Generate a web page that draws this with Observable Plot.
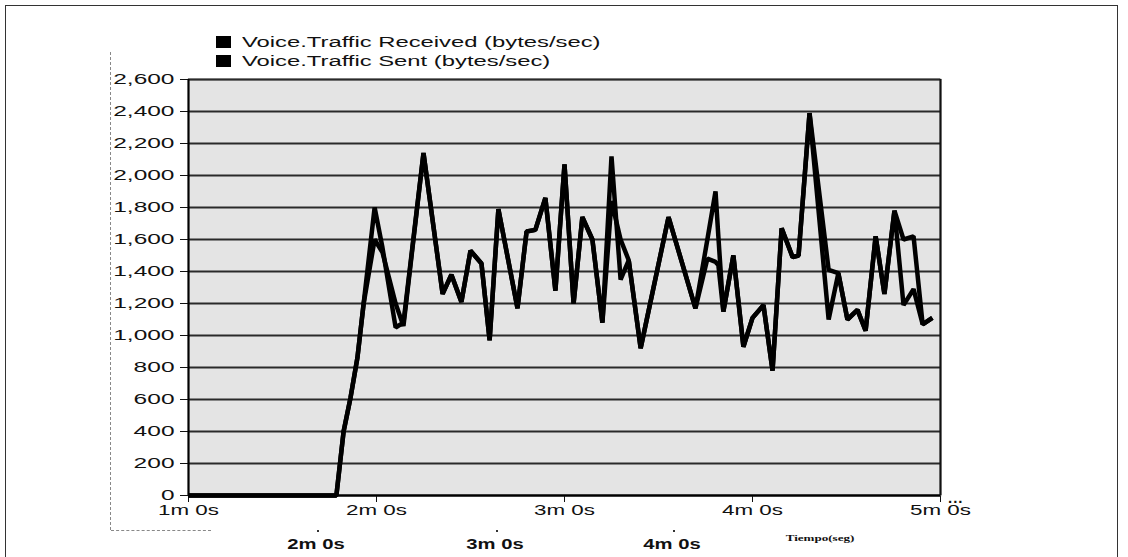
<!DOCTYPE html>
<html>
<head>
<meta charset="utf-8">
<script src="https://cdn.jsdelivr.net/npm/d3@7"></script>
<script src="https://cdn.jsdelivr.net/npm/@observablehq/plot@0.6"></script>
<style>
  html, body { margin: 0; padding: 0; background: #fff; }
  #wrap { position: relative; width: 1128px; height: 557px; overflow: hidden; font-family: "Liberation Sans", Arial, sans-serif; }
  #frame { position: absolute; left: 5px; top: 5px; width: 1113px; height: 600px; border: 1.5px solid #333; box-sizing: border-box; }
  .abs { position: absolute; white-space: nowrap; }
  .leg { font-size: 14px; color: #111; transform: scaleX(1.7); transform-origin: left center; line-height: 16px; }
  .sw { position: absolute; width: 15px; height: 12px; background: #000; }
  .bold { font-weight: bold; font-size: 15px; color: #111; transform: translateX(-50%) scaleX(1.35); line-height: 16px; }
  .dot { position: absolute; width: 2px; height: 2px; background: #333; }
  #dashv { position: absolute; left: 110px; top: 52px; height: 478px; border-left: 1px dashed #888; }
  #dashh { position: absolute; left: 111px; top: 530px; width: 100px; border-top: 1px dashed #888; }
</style>
</head>
<body>
<div id="wrap">
  <div id="frame"></div>
  <div id="dashv"></div>
  <div id="dashh"></div>
</div>
<script>
// Time in seconds
const times = [60, 107.2, 109.5, 111.7, 113.9, 115.9, 119.4, 121.9, 126.1, 128.6, 135.0, 141.1, 143.9, 147.1, 150.0, 153.5, 156.1, 158.9, 165.0, 167.9, 170.7, 173.9, 177.1, 180.0, 182.9, 185.7, 188.9, 192.1, 195.0, 197.9, 200.5, 204.3, 213.2, 221.8, 225.6, 228.2, 229.1, 230.7, 233.9, 237.1, 240.0, 243.5, 246.4, 249.3, 252.8, 254.7, 258.2, 264.3, 267.4, 270.3, 273.5, 276.1, 279.3, 282.1, 285.3, 288.2, 291.4, 294.3, 297.4];
// Voice.Traffic Received (bytes/sec)
const received = [0, 0, 400, 610, 860, 1200, 1800, 1550, 1050, 1080, 2140, 1260, 1380, 1210, 1530, 1450, 970, 1790, 1170, 1650, 1660, 1860, 1280, 2070, 1200, 1740, 1600, 1080, 2120, 1350, 1470, 920, 1740, 1170, 1600, 1900, 1620, 1150, 1500, 930, 1110, 1190, 780, 1670, 1490, 1500, 2390, 1410, 1390, 1100, 1160, 1030, 1620, 1260, 1780, 1600, 1620, 1070, 1110];
// Voice.Traffic Sent (bytes/sec)
const sent = [0, 0, 400, 610, 860, 1200, 1600, 1520, 1200, 1060, 2140, 1260, 1380, 1210, 1530, 1450, 970, 1790, 1170, 1650, 1660, 1860, 1280, 2070, 1200, 1740, 1600, 1080, 1840, 1600, 1470, 920, 1740, 1170, 1480, 1460, 1440, 1150, 1500, 930, 1110, 1190, 780, 1670, 1490, 1500, 2390, 1100, 1390, 1100, 1160, 1030, 1620, 1260, 1780, 1190, 1290, 1070, 1110];

const seriesNames = ["Voice.Traffic Received (bytes/sec)", "Voice.Traffic Sent (bytes/sec)"];
const xTicks = [60, 120, 180, 240, 300];
const xTickLabels = ["1m 0s", "2m 0s", "3m 0s", "4m 0s", "5m 0s"];
const yTicks = [0, 200, 400, 600, 800, 1000, 1200, 1400, 1600, 1800, 2000, 2200, 2400, 2600];
const bottomLabels = ["2m 0s", "3m 0s", "4m 0s"];
const bottomLabelTimes = [101, 158, 214.5];
const axisTitle = "Tiempo(seg)";

const recData = times.map((t, i) => ({t, v: received[i]}));
const sentData = times.map((t, i) => ({t, v: sent[i]}));

const chart = Plot.plot({
  width: 1128,
  height: 557,
  marginLeft: 188,
  marginRight: 188,
  marginTop: 79,
  marginBottom: 62,
  style: {background: "transparent", fontFamily: "'Liberation Sans', Arial, sans-serif", fontSize: "14px", color: "#111", overflow: "visible"},
  x: {domain: [60, 300], ticks: xTicks, tickFormat: (d) => xTickLabels[xTicks.indexOf(d)], tickSize: 7, tickPadding: 3, label: null},
  y: {domain: [0, 2600], ticks: yTicks, tickFormat: d3.format(","), tickSize: 8, tickPadding: 6, label: null},
  marks: [
    Plot.frame({fill: "#e4e4e4", stroke: "#333", strokeWidth: 1.5}),
    Plot.gridY(yTicks, {stroke: "#2a2a2a", strokeOpacity: 1, strokeWidth: 1.8}),
    Plot.line(sentData, {x: "t", y: "v", stroke: "#000", strokeWidth: 4.5, strokeLinejoin: "miter", strokeLinecap: "butt"}),
    Plot.line(recData, {x: "t", y: "v", stroke: "#000", strokeWidth: 4.5, strokeLinejoin: "miter", strokeLinecap: "butt"}),
    Plot.ruleX([60], {stroke: "#000", strokeWidth: 2}),
    Plot.ruleY([0], {stroke: "#000", strokeWidth: 2}),
    Plot.ruleX([300], {stroke: "#111", strokeWidth: 2})
  ]
});

const wrap = document.getElementById("wrap");
chart.style.position = "absolute";
chart.style.left = "0px";
chart.style.top = "0px";
wrap.appendChild(chart);

// stretch axis tick labels horizontally, like the reference
chart.querySelectorAll('[aria-label="y-axis tick label"] text').forEach((el) => {
  const w = el.getComputedTextLength();
  if (w > 0) {
    el.setAttribute("textLength", (w * 1.75).toFixed(1));
    el.setAttribute("lengthAdjust", "spacingAndGlyphs");
  }
});
chart.querySelectorAll('[aria-label="x-axis tick label"] text').forEach((el) => {
  const w = el.getComputedTextLength();
  if (w > 0) {
    el.setAttribute("textLength", (w * 1.6).toFixed(1));
    el.setAttribute("lengthAdjust", "spacingAndGlyphs");
  }
});

// legend
const legTops = [34, 53];
seriesNames.forEach((name, i) => {
  const sw = document.createElement("div");
  sw.className = "sw";
  sw.style.left = "216px";
  sw.style.top = (legTops[i] + 2) + "px";
  wrap.appendChild(sw);
  const tx = document.createElement("div");
  tx.className = "abs leg";
  tx.style.left = "242px";
  tx.style.top = legTops[i] + "px";
  tx.textContent = name;
  wrap.appendChild(tx);
});

// bottom duplicate labels
const xs = d3.scaleLinear().domain([60, 300]).range([188, 940]);
bottomLabels.forEach((lab, i) => {
  const cx = xs(bottomLabelTimes[i]);
  const tx = document.createElement("div");
  tx.className = "abs bold";
  tx.style.left = cx + "px";
  tx.style.top = "536px";
  tx.textContent = lab;
  wrap.appendChild(tx);
  const dt = document.createElement("div");
  dt.className = "dot";
  dt.style.left = (cx + 1) + "px";
  dt.style.top = "530px";
  wrap.appendChild(dt);
});

const tt = document.createElement("div");
tt.className = "abs";
tt.style.cssText = "left:820px;top:533px;font-family:'Liberation Serif',serif;font-weight:bold;font-size:9px;color:#111;transform:translateX(-50%) scaleX(1.45);";
tt.textContent = axisTitle;
wrap.appendChild(tt);

const dots = document.createElement("div");
dots.className = "abs";
dots.style.cssText = "left:948px;top:489px;font-weight:bold;font-size:15px;color:#111;letter-spacing:1px;";
dots.textContent = "...";
wrap.appendChild(dots);
</script>
</body>
</html>
